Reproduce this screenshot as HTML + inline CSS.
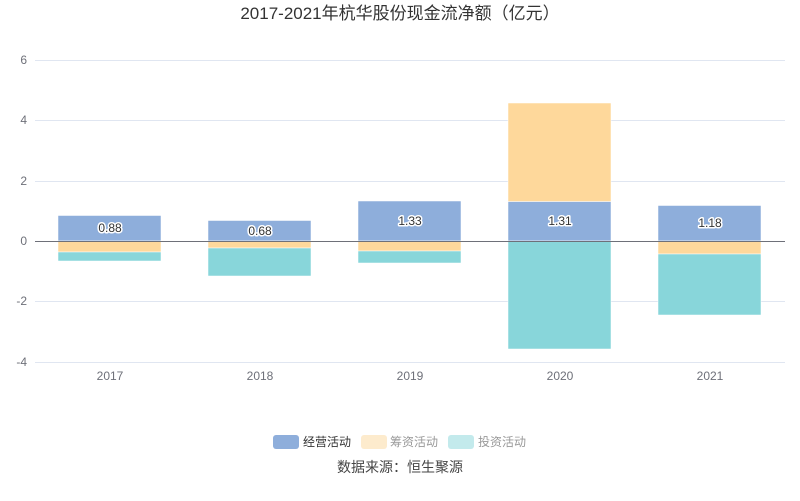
<!DOCTYPE html>
<html><head><meta charset="utf-8"><style>
html,body{margin:0;padding:0;background:#fff;}
svg{display:block;font-family:"Liberation Sans","Noto Sans CJK SC",sans-serif;}
</style></head><body>
<svg width="800" height="501" xmlns="http://www.w3.org/2000/svg">
<text x="400" y="19" text-anchor="middle" font-size="17" fill="#333">2017-2021年杭华股份现金流净额（亿元）</text>
<g stroke="#e0e6f1" stroke-width="1">
<line x1="35" x2="785" y1="60.5" y2="60.5"/>
<line x1="35" x2="785" y1="120.5" y2="120.5"/>
<line x1="35" x2="785" y1="181.5" y2="181.5"/>
<line x1="35" x2="785" y1="301.5" y2="301.5"/>
<line x1="35" x2="785" y1="362.5" y2="362.5"/>
</g>
<g font-size="12" fill="#6e7079" text-anchor="end">
<text x="27" y="64">6</text><text x="27" y="124">4</text><text x="27" y="185">2</text>
<text x="27" y="245">0</text><text x="27" y="305">-2</text><text x="27" y="366">-4</text>
</g>
<g font-size="12" fill="#6e7079" text-anchor="middle">
<text x="110" y="380">2017</text><text x="260" y="380">2018</text><text x="410" y="380">2019</text>
<text x="560" y="380">2020</text><text x="710" y="380">2021</text>
</g>
<g stroke="#fff" stroke-width="0.5">
<rect x="58" y="215.5" width="103" height="25.5" fill="#8eaedb"/>
<rect x="58" y="241" width="103" height="11" fill="#fed89b"/>
<rect x="58" y="252" width="103" height="9" fill="#88d6da"/>
<rect x="208" y="220.5" width="103" height="20.5" fill="#8eaedb"/>
<rect x="208" y="241" width="103" height="7" fill="#fed89b"/>
<rect x="208" y="248" width="103" height="28" fill="#88d6da"/>
<rect x="358" y="201" width="103" height="40" fill="#8eaedb"/>
<rect x="358" y="241" width="103" height="10" fill="#fed89b"/>
<rect x="358" y="251" width="103" height="12" fill="#88d6da"/>
<rect x="508" y="201.5" width="103" height="39.5" fill="#8eaedb"/>
<rect x="508" y="103" width="103" height="98.5" fill="#fed89b"/>
<rect x="508" y="241" width="103" height="108" fill="#88d6da"/>
<rect x="658" y="205.5" width="103" height="35.5" fill="#8eaedb"/>
<rect x="658" y="241" width="103" height="13" fill="#fed89b"/>
<rect x="658" y="254" width="103" height="61" fill="#88d6da"/>
</g>
<line x1="35" x2="785" y1="241.5" y2="241.5" stroke="#6e7079" stroke-width="1"/>
<g font-size="12" fill="#333" text-anchor="middle" stroke="#fff" stroke-width="3" paint-order="stroke" stroke-linejoin="round">
<text x="110" y="232">0.88</text><text x="260" y="235">0.68</text><text x="410" y="225">1.33</text>
<text x="560" y="225">1.31</text><text x="710" y="227">1.18</text>
</g>
<rect x="273" y="435" width="26" height="14" rx="3" fill="#8eaedb"/>
<text x="303" y="446" font-size="12" fill="#333">经营活动</text>
<rect x="361" y="435" width="26" height="14" rx="3" fill="#fdebcd"/>
<text x="390" y="446" font-size="12" fill="#999">筹资活动</text>
<rect x="448" y="435" width="26" height="14" rx="3" fill="#c3eaec"/>
<text x="478" y="446" font-size="12" fill="#999">投资活动</text>
<text x="400" y="472" text-anchor="middle" font-size="14" fill="#444">数据来源：恒生聚源</text>
</svg>
</body></html>
